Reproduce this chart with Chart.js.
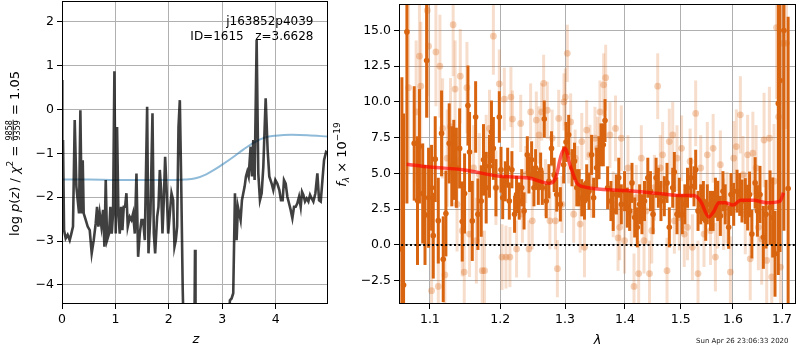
<!DOCTYPE html>
<html>
<head>
<meta charset="utf-8">
<script src="https://cdn.jsdelivr.net/npm/chart.js@4.4.1/dist/chart.umd.min.js"></script>
<style>
  body { margin: 0; background: #fff; }
  canvas { position: absolute; top: 0; }
  #pz { left: 0; }
  #spec { left: 326px; }
</style>
</head>
<body>
<canvas id="pz" width="330" height="350"></canvas>
<canvas id="spec" width="474" height="350"></canvas>
<script>
// --- p(z) panel ---
const zGrid = [0.000,0.006,0.019,0.038,0.069,0.106,0.144,0.175,0.206,0.238,
  0.269,0.294,0.319,0.344,0.369,0.388,0.406,0.444,0.481,0.519,
  0.556,0.594,0.631,0.656,0.681,0.706,0.738,0.769,0.794,0.819,
  0.844,0.881,0.906,0.931,0.956,0.981,1.006,1.031,1.056,1.081,
  1.106,1.131,1.156,1.181,1.206,1.231,1.269,1.300,1.331,1.363,
  1.394,1.425,1.456,1.488,1.519,1.550,1.594,1.619,1.656,1.694,
  1.719,1.744,1.781,1.806,1.831,1.856,1.881,1.906,1.931,1.956,
  1.988,2.019,2.050,2.081,2.106,2.131,2.156,2.181,2.206,2.231,
  2.260,2.280,2.350,2.450,2.480,2.490,2.500,2.600,2.800,3.000,
  3.100,3.144,3.175,3.206,3.238,3.269,3.294,3.319,3.344,3.369,
  3.394,3.419,3.444,3.469,3.494,3.531,3.556,3.581,3.606,3.644,
  3.675,3.706,3.738,3.769,3.813,3.850,3.881,3.925,3.956,3.994,
  4.031,4.069,4.100,4.131,4.156,4.188,4.219,4.250,4.281,4.313,
  4.344,4.375,4.406,4.438,4.469,4.494,4.519,4.550,4.581,4.613,
  4.644,4.675,4.706,4.744,4.781,4.813,4.844,4.881,4.906,4.944,
  4.975];
const logPz = [0.67,-2.45,-0.70,-2.75,-2.94,-2.86,-2.98,-2.83,-2.67,-0.24,
  -1.76,-2.07,-2.37,-0.02,-2.37,-1.16,-2.37,-2.52,-2.67,-2.75,
  -3.28,-2.98,-2.60,-2.22,-2.67,-2.37,-2.67,-2.29,-3.13,-1.61,
  -2.98,-2.83,-2.22,-2.83,-2.37,0.87,-2.83,-0.40,-2.37,-2.83,
  -2.22,-2.75,-2.22,-2.22,-1.91,-2.67,-2.45,-2.52,-2.37,-2.83,
  -1.46,-3.36,-2.83,-2.52,-2.52,-2.98,0.06,-3.28,-2.37,-0.09,
  -2.83,-3.28,-2.45,-2.22,-1.38,-1.84,-2.83,-2.07,-1.08,-1.76,
  -2.83,-2.37,-1.91,-2.07,-3.13,-2.98,-2.67,-0.40,0.21,-1.61,
  -4.10,-5.20,-6.00,-5.50,-4.90,-3.20,-5.00,-6.50,-7.00,-6.50,
  -5.20,-4.35,-4.31,-4.19,-1.91,-2.98,-2.22,-2.37,-2.52,-2.07,
  -1.91,-1.76,-1.53,-1.42,-1.53,-0.85,-1.53,-0.70,-1.61,1.58,
  -1.46,-2.07,-1.91,-1.31,0.25,-0.93,-1.53,-1.69,-1.84,-1.61,
  -1.69,-1.84,-2.07,-2.07,-1.61,-1.69,-1.99,-2.14,-2.29,-2.48,
  -2.22,-2.22,-2.14,-1.99,-2.22,-1.88,-1.95,-2.10,-2.03,-2.10,
  -1.95,-2.03,-2.10,-1.91,-1.46,-2.07,-2.10,-1.53,-1.16,-0.97,
  -1.00];
const zPrior = [0, 0.5, 1.0, 1.5, 2.0, 2.3, 2.5, 2.7, 2.9, 3.0, 3.2, 3.4, 3.6, 3.8, 4.0, 4.3, 4.6, 4.98];
const logPrior = [-1.60, -1.60, -1.61, -1.61, -1.61, -1.60, -1.57, -1.48, -1.34, -1.26, -1.09, -0.91, -0.75, -0.64, -0.60, -0.58, -0.59, -0.62];
const zTicks = [0, 1, 2, 3, 4];
const pzTicks = [-4, -3, -2, -1, 0, 1, 2];

// --- spectrum panel ---
const dLam = [1.0626,1.0648,1.0692,1.0789,1.0833,1.0859,1.0903,1.0934,1.0956,1.0982,
  1.1023,1.1046,1.1073,1.1115,1.1160,1.1183,1.1220,1.1266,1.1302,1.1330,
  1.1366,1.1412,1.1449,1.1482,1.1530,1.1553,1.1592,1.1640,1.1673,1.1721,
  1.1754,1.1793,1.1841,1.1870,1.1898,1.1936,1.1986,1.2011,1.2036,1.2075,
  1.2110,1.2135,1.2174,1.2214,1.2244,1.2284,1.2323,1.2358,1.2408,1.2433,
  1.2474,1.2510,1.2536,1.2578,1.2614,1.2640,1.2671,1.2702,1.2744,1.2785,
  1.2827,1.2868,1.2925,1.2978,1.3016,1.3059,1.3113,1.3153,1.3191,1.3229,
  1.3272,1.3316,1.3353,1.3391,1.3434,1.3468,1.3518,1.3558,1.3591,1.3630,
  1.3659,1.3703,1.3759,1.3798,1.3853,1.3893,1.3937,1.3993,1.4040,1.4081,
  1.4122,1.4169,1.4215,1.4256,1.4297,1.4342,1.4401,1.4448,1.4495,1.4549,
  1.4590,1.4637,1.4698,1.4747,1.4789,1.4851,1.4881,1.4930,1.4973,1.5028,
  1.5076,1.5125,1.5186,1.5247,1.5279,1.5323,1.5374,1.5425,1.5469,1.5500,
  1.5561,1.5612,1.5656,1.5701,1.5752,1.5803,1.5847,1.5915,1.5961,1.6014,
  1.6080,1.6133,1.6179,1.6245,1.6292,1.6331,1.6378,1.6444,1.6490,1.6543,
  1.6612,1.6667,1.6750,1.6805,1.6853,1.6922,1.6957,1.7039,1.7129];
const dFlux = [-0.28,-2.8,14.9,7.1,3.1,6.9,3.6,2.1,12.9,3.3,
  4.0,0.65,6.0,1.7,7.8,-1.0,2.2,7.1,5.5,5.95,
  5.4,6.75,1.64,3.6,9.75,6.5,1.68,8.95,2.15,3.07,
  5.95,4.0,5.5,7.9,6.75,4.0,8.95,5.26,3.3,4.45,
  5.4,3.07,5.26,2.15,3.53,3.07,4.0,2.38,6.3,4.9,
  5.95,4.0,5.4,4.0,5.26,4.0,8.8,3.07,4.45,6.75,
  4.9,3.53,2.84,5.6,7.2,7.7,5.4,5.85,4.0,4.0,
  3.3,3.07,4.34,3.76,6.3,3.3,5.4,6.1,7.0,7.0,
  8.7,4.0,3.07,2.38,3.53,4.7,2.84,3.76,2.61,2.38,
  4.34,1.92,1.23,2.84,2.15,3.07,4.7,3.76,2.15,4.7,
  4.0,3.07,3.41,4.34,1.23,4.0,5.1,2.15,3.3,2.15,
  2.84,4.0,4.7,4.1,5.26,2.38,2.84,3.07,1.69,2.84,
  2.38,2.38,3.3,3.07,2.03,3.76,2.84,1.23,3.53,2.84,
  3.76,3.53,3.07,3.07,2.61,3.53,0.76,4.34,2.38,3.53,
  0.53,2.15,2.61,1.92,-0.62,9.9,11.5,15.0,3.95];
const dErr = [12,12,12,4,4.5,4,3.5,3.5,4,3.5,
  3,3,3,3,3,3,3,2.8,2.8,2.8,
  2.8,2.8,2.8,2.8,2.8,2.8,2.8,2.5,2.5,2.5,
  2.5,2.5,2.2,2.2,2.2,2,1.8,1.6,1.5,1.4,
  1.4,1.3,1.3,1.3,1.3,1.3,1.3,1.3,1.3,1.3,
  1.3,1.3,1.3,1.2,1.2,1.2,1.3,1.2,1.2,1.2,
  1.2,1.2,1.2,1.3,1.4,1.4,1.3,1.3,1.3,1.3,
  1.3,1.3,1.3,1.3,1.4,1.4,1.4,1.5,1.5,1.5,
  1.5,1.5,1.4,1.4,1.4,1.4,1.4,1.4,1.4,1.4,
  1.4,1.4,1.4,1.4,1.4,1.4,1.4,1.4,1.4,1.4,
  1.4,1.4,1.4,1.4,1.4,1.4,1.4,1.4,1.4,1.4,
  1.4,1.4,1.4,1.4,1.4,1.4,1.4,1.4,1.4,1.4,
  1.4,1.4,1.4,1.4,1.4,1.4,1.4,1.5,1.5,1.5,
  1.5,1.5,1.5,1.6,1.6,1.6,1.7,1.8,1.8,2.0,
  2.2,2.4,2.6,2.8,3.0,12,12,14,12];

const lLam = [1.0714,1.0815,1.0859,1.0877,1.0965,1.0982,1.1023,1.1082,1.1115,1.1137,
  1.1174,1.1206,1.1238,1.1284,1.1321,1.1348,1.1376,1.1421,1.1449,1.1477,
  1.1515,1.1553,1.1611,1.1650,1.1694,1.1735,1.1769,1.1793,1.1841,1.1898,
  1.1936,1.1986,1.2026,1.2060,1.2085,1.2144,1.2159,1.2182,1.2244,1.2307,
  1.2333,1.2383,1.2433,1.2459,1.2485,1.2547,1.2588,1.2630,1.2661,1.2689,
  1.2718,1.2759,1.2795,1.2847,1.2878,1.2899,1.2951,1.2983,1.3005,1.3037,
  1.3059,1.3091,1.3140,1.3164,1.3207,1.3245,1.3272,1.3316,1.3353,1.3407,
  1.3434,1.3490,1.3535,1.3574,1.3636,1.3670,1.3742,1.3798,1.3837,1.3881,
  1.3909,1.3937,1.3993,1.4052,1.4110,1.4157,1.4198,1.4239,1.4286,1.4333,
  1.4372,1.4431,1.4472,1.4519,1.4578,1.4625,1.4667,1.4747,1.4789,1.4851,
  1.4881,1.4930,1.4973,1.5015,1.5064,1.5125,1.5174,1.5217,1.5279,1.5323,
  1.5374,1.5437,1.5500,1.5561,1.5612,1.5656,1.5701,1.5752,1.5816,1.5882,
  1.5948,1.6014,1.6067,1.6146,1.6199,1.6245,1.6292,1.6344,1.6398,1.6464,
  1.6510,1.6578,1.6626,1.6681,1.6736,1.6785,1.6833,1.6884,1.6926,1.6967,
  1.7023,1.7094];
const lFlux = [11.0,9.3,13.2,11.1,16.4,13.9,-3.2,13.5,-2.9,12.5,
  8.15,-2.1,6.07,8.27,15.4,10.9,2.84,11.8,1.0,-1.9,
  11.0,0.76,5.38,0.3,4.92,-1.8,-1.8,6.3,8.15,14.6,
  4.0,11.27,-0.85,10.2,-0.85,-0.85,10.34,8.8,-0.28,8.5,
  2.15,4.92,-0.28,9.3,1.69,8.73,7.69,9.3,11.3,4.0,
  9.42,1.69,7.46,1.69,-1.66,8.85,2.84,10.0,10.34,13.4,
  6.3,8.6,2.15,6.07,4.92,1.46,7.23,-0.16,8.03,6.3,
  4.0,7.46,6.76,9.3,11.2,11.7,7.69,2.84,8.15,0.49,
  1.23,7.46,0.3,5.38,2.15,-2.9,3.3,-2.0,6.07,0.3,
  2.38,-2.0,1.0,4.0,11.1,5.38,6.3,-1.8,7.23,7.69,
  1.69,6.07,1.92,6.76,0.76,1.23,5.84,-0.16,9.2,-2.0,
  5.38,0.76,6.3,1.0,6.76,-0.85,2.15,5.61,2.15,2.61,
  -1.9,6.07,6.88,9.1,4.92,2.15,6.3,-0.97,6.42,5.38,
  1.23,0.42,7.34,-1.08,7.46,-2.24,4.46,15.2,8.96,-1.55,
  14.1,14.1];
const lErr = [6,5,4.5,4.5,6,5,5,3.8,3.8,3.6,
  3.5,3.5,3.4,3.4,3.6,3.4,3.3,3.3,3.2,3.2,
  3.2,3.0,3.0,3.0,2.9,2.8,2.8,2.8,2.7,2.7,
  2.6,2.4,2.3,2.2,2.2,2.1,2.1,2.0,2.0,2.0,
  2.0,2.0,2.0,2.0,2.0,2.0,2.0,2.0,2.0,2.0,
  2.0,2.0,2.0,2.0,2.0,2.0,2.0,2.0,2.0,2.0,
  2.0,2.0,2.0,2.0,2.0,2.0,2.0,2.1,2.1,2.1,
  2.1,2.2,2.2,2.2,2.2,2.3,2.3,2.3,2.3,2.3,
  2.3,2.3,2.3,2.3,2.3,2.3,2.3,2.3,2.3,2.3,
  2.3,2.3,2.3,2.3,2.3,2.3,2.3,2.3,2.3,2.3,
  2.3,2.3,2.3,2.3,2.3,2.3,2.3,2.3,2.3,2.3,
  2.3,2.3,2.3,2.4,2.4,2.4,2.4,2.4,2.5,2.5,
  2.5,2.6,2.6,2.7,2.7,2.8,2.8,2.9,2.9,3.0,
  3.0,3.2,3.3,3.4,3.6,3.8,4.0,5,5,5,
  6,6];

const mLam = [1.069, 1.100, 1.146, 1.200, 1.243, 1.269, 1.276, 1.285, 1.294, 1.300, 1.308, 1.319, 1.327,
  1.400, 1.464, 1.500, 1.525, 1.537, 1.553, 1.563, 1.572, 1.585, 1.600, 1.615, 1.641, 1.668, 1.696, 1.703];
const mFlux = [5.65, 5.45, 5.26, 4.80, 4.68, 4.34, 4.32, 4.68, 6.30, 6.76, 5.60, 4.34, 4.10,
  3.81, 3.58, 3.46, 3.46, 3.07, 1.96, 2.38, 2.95, 2.95, 2.79, 3.12, 3.12, 2.95, 3.07, 3.65];
const lamTicks = [1.1, 1.2, 1.3, 1.4, 1.5, 1.6, 1.7];
const fluxTicks = [-2.5, 0, 2.5, 5, 7.5, 10, 12.5, 15];

const FONT = 'DejaVu Sans';
const tickFont = { family: FONT, size: 12.5 };
const ORANGE = 'rgb(217,100,16)';
const minus = s => String(s).replace('-', '\u2212');

const framePlugin = {
  id: 'frame',
  afterDraw(chart) {
    const a = chart.chartArea, ctx = chart.ctx;
    ctx.save();
    ctx.strokeStyle = '#000';
    ctx.lineWidth = 1;
    ctx.strokeRect(Math.round(a.left) + 0.5, Math.round(a.top) + 0.5,
      Math.round(a.right - a.left) - 1, Math.round(a.bottom - a.top) - 1);
    ctx.restore();
  }
};

// error bars drawn through the chart's own scales, just before each dataset
const errPlugin = {
  id: 'errbars',
  beforeDatasetDraw(chart, args) {
    const ds = chart.data.datasets[args.index];
    if (!ds.errors) return;
    const xs = chart.scales.x, ys = chart.scales.y, a = chart.chartArea, ctx = chart.ctx;
    ctx.save();
    ctx.beginPath();
    ctx.rect(a.left, a.top, a.right - a.left, a.bottom - a.top);
    ctx.clip();
    ctx.strokeStyle = ds.errColor;
    ctx.lineWidth = ds.errWidth;
    ds.data.forEach((p, i) => {
      const px = xs.getPixelForValue(p.x);
      ctx.beginPath();
      ctx.moveTo(px, ys.getPixelForValue(p.y - ds.errors[i]));
      ctx.lineTo(px, ys.getPixelForValue(p.y + ds.errors[i]));
      ctx.stroke();
    });
    ctx.restore();
  }
};

function richText(ctx, parts, x, y) {
  ctx.save();
  ctx.translate(x, y);
  ctx.rotate(-Math.PI / 2);
  ctx.fillStyle = '#000';
  ctx.textBaseline = 'alphabetic';
  const widths = parts.map(p => {
    ctx.font = p.f;
    if (p.num) return Math.max(ctx.measureText(p.num).width, ctx.measureText(p.den).width) + 2;
    return ctx.measureText(p.t).width;
  });
  let cur = -widths.reduce((s, w) => s + w, 0) / 2;
  parts.forEach((p, i) => {
    const w = widths[i];
    ctx.font = p.f;
    if (p.num) {
      ctx.textAlign = 'center';
      ctx.fillText(p.num, cur + w / 2, -7.5);
      ctx.fillText(p.den, cur + w / 2, 1);
      ctx.fillRect(cur + 0.5, -6.3, w - 1, 0.8);
    } else {
      ctx.textAlign = 'left';
      ctx.fillText(p.t, cur, p.dy || 0);
    }
    cur += w;
  });
  ctx.restore();
}

const N = '13px "DejaVu Sans"', I = 'oblique 13px "DejaVu Sans"';
const S = '9px "DejaVu Sans"', SI = 'oblique 9px "DejaVu Sans"';

const pzText = {
  id: 'pzText',
  afterDraw(chart) {
    const ctx = chart.ctx;
    ctx.save();
    ctx.fillStyle = '#000';
    ctx.font = '12px "DejaVu Sans"';
    ctx.textAlign = 'right';
    ctx.fillText('j163852p4039', 313.5, 24.5);
    ctx.fillText('ID=1615   z=3.6628', 313.5, 39.5);
    ctx.font = I;
    ctx.textAlign = 'center';
    ctx.fillText('z', 196, 343);
    ctx.restore();
    richText(ctx, [
      { t: 'log ', f: N }, { t: 'p', f: I }, { t: '(', f: N }, { t: 'z', f: I },
      { t: ') / ', f: N }, { t: '\u03c7', f: I }, { t: '2', f: S, dy: -6 },
      { t: ' = ', f: N }, { num: '9858', den: '9359', f: '8px "DejaVu Sans"' },
      { t: ' = 1.05', f: N }
    ], 19, 153.5);
  }
};

const specText = {
  id: 'specText',
  afterDraw(chart) {
    const ctx = chart.ctx;
    ctx.save();
    ctx.fillStyle = '#000';
    ctx.font = I;
    ctx.textAlign = 'center';
    ctx.fillText('\u03bb', 271.5, 344);
    ctx.font = '7px "DejaVu Sans"';
    ctx.fillStyle = '#222';
    ctx.textAlign = 'left';
    ctx.fillText('Sun Apr 26 23:06:33 2020', 370, 343);
    ctx.restore();
    richText(ctx, [
      { t: 'f', f: I }, { t: '\u03bb', f: SI, dy: 3 },
      { t: ' \u00d7 10', f: N }, { t: '\u221219', f: S, dy: -6 }
    ], 20, 154.5);
  }
};

function axis(min, max, ticks, fmt, fit, type) {
  return {
    type: type || 'linear', min, max,
    afterBuildTicks: s => { s.ticks = ticks.map(v => ({ value: v })); },
    afterFit: fit,
    ticks: { font: tickFont, color: '#000', padding: 3, autoSkip: false, maxRotation: 0, callback: fmt },
    grid: { color: '#b0b0b0', lineWidth: 1, tickColor: '#000', tickLength: 5 },
    border: { display: false }
  };
}

new Chart(document.getElementById('pz'), {
  type: 'line',
  data: {
    datasets: [
      { data: zGrid.map((z, i) => ({ x: z, y: logPz[i] })), borderColor: 'rgba(0,0,0,0.75)',
        borderWidth: 2.6, pointRadius: 0, tension: 0 },
      { data: zPrior.map((z, i) => ({ x: z, y: logPrior[i] })), borderColor: 'rgba(31,119,180,0.5)',
        borderWidth: 2, pointRadius: 0, cubicInterpolationMode: 'monotone' }
    ]
  },
  options: {
    responsive: false, animation: false, events: [],
    layout: { padding: { left: 0, right: 2, top: 1, bottom: 0 } },
    plugins: { legend: { display: false }, tooltip: { enabled: false } },
    scales: {
      x: axis(0, 4.98, zTicks, v => String(v), s => { s.height = 46; s.paddingLeft = 0; s.paddingRight = 0; }),
      y: axis(-4.435, 2.47, pzTicks, v => minus(v), s => { s.width = 62; s.paddingTop = 0; s.paddingBottom = 0; })
    }
  },
  plugins: [framePlugin, pzText]
});

const specX = axis(1.0588, 1.7296, lamTicks, v => Number(v).toFixed(1),
  s => { s.height = 46; s.paddingLeft = 0; s.paddingRight = 0; }, 'logarithmic');
const specY = axis(-4.13, 16.85, fluxTicks, v => minus(Number(v).toFixed(1)),
  s => { s.width = 73; s.paddingTop = 0; s.paddingBottom = 0; });
specX.z = 1;
specY.z = 1;

new Chart(document.getElementById('spec'), {
  type: 'scatter',
  data: {
    datasets: [
      { type: 'line', data: [{ x: 1.0, y: 0 }, { x: 1.8, y: 0 }], borderColor: '#000', borderWidth: 2,
        borderDash: [2, 2.4], pointRadius: 0 },
      { type: 'line', data: mLam.map((l, i) => ({ x: l, y: mFlux[i] })), borderColor: 'rgba(255,0,0,0.65)',
        borderWidth: 3.5, pointRadius: 0, cubicInterpolationMode: 'monotone' },
      { data: dLam.map((l, i) => ({ x: l, y: dFlux[i] })), errors: dErr, errColor: ORANGE, errWidth: 3,
        backgroundColor: ORANGE, borderWidth: 0, pointRadius: 2.8 },
      { data: lLam.map((l, i) => ({ x: l, y: lFlux[i] })), errors: lErr, errColor: 'rgba(217,100,16,0.22)', errWidth: 3,
        backgroundColor: 'rgba(217,100,16,0.3)', borderWidth: 0, pointRadius: 3.4 }
    ]
  },
  options: {
    responsive: false, animation: false, events: [],
    layout: { padding: { left: 0, right: 1, top: 1, bottom: 0 } },
    plugins: { legend: { display: false }, tooltip: { enabled: false } },
    scales: { x: specX, y: specY }
  },
  plugins: [errPlugin, framePlugin, specText]
});
</script>
</body>
</html>
